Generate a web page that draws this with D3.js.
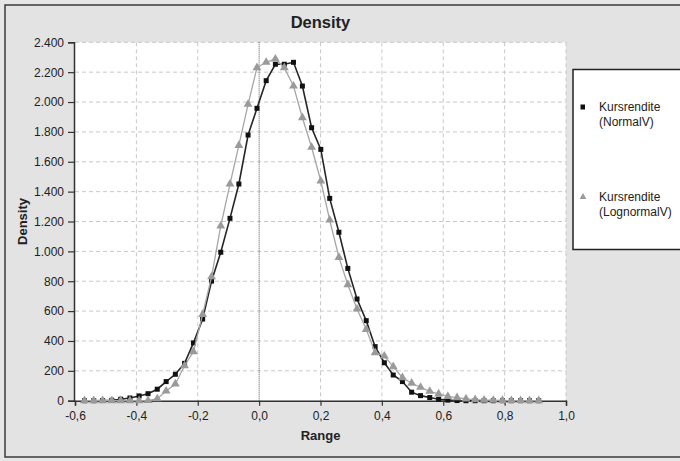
<!DOCTYPE html>
<html>
<head>
<meta charset="utf-8">
<script src="https://cdn.jsdelivr.net/npm/d3@7"></script>
<style>
  html, body { margin: 0; padding: 0; background: #e4e4e4; }
  svg { display: block; font-family: "Liberation Sans", Arial, sans-serif; }
</style>
</head>
<body>
<svg id="chart" width="680" height="461"></svg>
<script>
// ---- Data ----
const rangeValues = [
  -0.569, -0.539, -0.510, -0.480, -0.451, -0.421, -0.391, -0.362, -0.332, -0.303,
  -0.273, -0.243, -0.214, -0.184, -0.155, -0.125, -0.095, -0.066, -0.036, -0.007,
   0.023,  0.053,  0.082,  0.112,  0.141,  0.171,  0.201,  0.230,  0.260,  0.289,
   0.319,  0.349,  0.378,  0.408,  0.437,  0.467,  0.497,  0.526,  0.556,  0.585,
   0.615,  0.645,  0.674,  0.704,  0.733,  0.763,  0.793,  0.822,  0.852,  0.881,
   0.911
];
const normalDensity = [
     0,    0,    1,    3,   10,   18,   32,   47,   77,  128,
   177,  250,  387,  547,  801,  994, 1221, 1451, 1779, 1958,
  2143, 2253, 2253, 2266, 2107, 1828, 1683, 1355, 1128,  886,
   681,  536,  362,  254,  172,  128,   57,   34,   21,   10,
     4,    1,    0,    0,    0,    0,    0,    0,    0,    0,
     0
];
const lognormalDensity = [
     0,    0,    0,    0,    0,    0,    0,    1,   13,   65,
   112,  234,  328,  578,  830, 1170, 1451, 1710, 1985, 2230,
  2266, 2288, 2230, 2107, 1895, 1697, 1471, 1210,  960,  777,
   614,  478,  322,  299,  228,  154,  117,   90,   63,   46,
    29,   20,   12,    7,    4,    3,    2,    1,    1,    0,
     0
];
const seriesNames = ["Kursrendite (NormalV)", "Kursrendite (LognormalV)"];
const xTicks = [-0.6, -0.4, -0.2, 0.0, 0.2, 0.4, 0.6, 0.8, 1.0];
const yTicks = [0, 200, 400, 600, 800, 1000, 1200, 1400, 1600, 1800, 2000, 2200, 2400];
const chartTitle = "Density";
const xTitle = "Range";
const yTitle = "Density";

// ---- Layout ----
const svg = d3.select("#chart");
const plot = { left: 75, right: 566, top: 42.3, bottom: 400.7 };
const de = d3.formatLocale({ decimal: ",", thousands: ".", grouping: [3], currency: ["", " €"], minus: "-" });
const fmtY = de.format(",d");
const fmtX = de.format(".1f");

const x = d3.scaleLinear().domain([-0.6, 1.0]).range([plot.left, plot.right]);
const y = d3.scaleLinear().domain([0, 2400]).range([plot.bottom, plot.top]);

// background and outer frame
svg.append("rect").attr("x", 0).attr("y", 0).attr("width", 680).attr("height", 461).attr("fill", "#e6e6e6");
svg.append("rect").attr("x", 5).attr("y", 5).attr("width", 700).attr("height", 452)
  .attr("fill", "#e3e3e3").attr("stroke", "#3a3a3a").attr("stroke-width", 1.5);

// plot area
svg.append("rect").attr("x", plot.left).attr("y", plot.top)
  .attr("width", plot.right - plot.left).attr("height", plot.bottom - plot.top)
  .attr("fill", "#ffffff");

// grid lines
const grid = svg.append("g");
grid.selectAll("line.h").data(yTicks.filter(d => d > 0)).join("line")
  .attr("x1", plot.left).attr("x2", plot.right)
  .attr("y1", d => y(d)).attr("y2", d => y(d))
  .attr("stroke", "#c8c8c8").attr("stroke-width", 1).attr("stroke-dasharray", "4,3");
grid.selectAll("line.v").data(xTicks.filter(d => d !== 0 && d !== -0.6)).join("line")
  .attr("x1", d => x(d)).attr("x2", d => x(d))
  .attr("y1", plot.top).attr("y2", plot.bottom)
  .attr("stroke", "#c8c8c8").attr("stroke-width", 1).attr("stroke-dasharray", "4,3");
// zero line (dotted, darker)
svg.append("line").attr("x1", x(0)).attr("x2", x(0)).attr("y1", plot.top).attr("y2", plot.bottom)
  .attr("stroke", "#555").attr("stroke-width", 1).attr("stroke-dasharray", "1,1");

// axes
const xAxis = svg.append("g").attr("transform", `translate(0,${plot.bottom})`)
  .call(d3.axisBottom(x).tickValues(xTicks).tickFormat(fmtX).tickSize(5).tickPadding(6));
const yAxis = svg.append("g").attr("transform", `translate(${plot.left - 1},0)`)
  .call(d3.axisLeft(y).tickValues(yTicks).tickFormat(fmtY).tickSize(6).tickPadding(4));
[xAxis, yAxis].forEach(a => {
  a.select(".domain").attr("stroke", "#333").attr("stroke-width", 1.5);
  a.selectAll(".tick line").attr("stroke", "#333").attr("stroke-width", 1.2);
  a.selectAll(".tick text").attr("fill", "#222").style("font-size", "12px")
    .style("font-family", "'Liberation Sans', Arial, sans-serif");
});

// series
const pts = (vals) => rangeValues.map((r, i) => [r, vals[i]]);
const line = d3.line().x(d => x(d[0])).y(d => y(d[1]));

svg.append("path").datum(pts(normalDensity)).attr("d", line)
  .attr("fill", "none").attr("stroke", "#262626").attr("stroke-width", 1.6);
svg.append("g").selectAll("rect").data(pts(normalDensity)).join("rect")
  .attr("x", d => x(d[0]) - 2.5).attr("y", d => y(d[1]) - 2.5)
  .attr("width", 5).attr("height", 5).attr("fill", "#111");

svg.append("path").datum(pts(lognormalDensity)).attr("d", line)
  .attr("fill", "none").attr("stroke", "#a6a6a6").attr("stroke-width", 1.3);
const tri = d3.symbol().type(d3.symbolTriangle).size(34);
svg.append("g").selectAll("path").data(pts(lognormalDensity)).join("path")
  .attr("d", tri).attr("transform", d => `translate(${x(d[0])},${y(d[1])})`)
  .attr("fill", "#9a9a9a");

// titles
svg.append("text").attr("x", (plot.left + plot.right) / 2).attr("y", 28)
  .attr("text-anchor", "middle").style("font-size", "16.5px").style("font-weight", "bold")
  .attr("fill", "#222").text(chartTitle);
svg.append("text").attr("x", (plot.left + plot.right) / 2).attr("y", 440)
  .attr("text-anchor", "middle").style("font-size", "13px").style("font-weight", "bold")
  .attr("fill", "#222").text(xTitle);
svg.append("text").attr("transform", `translate(27,${(plot.top + plot.bottom) / 2}) rotate(-90)`)
  .attr("text-anchor", "middle").style("font-size", "13px").style("font-weight", "bold")
  .attr("fill", "#222").text(yTitle);

// legend
const lg = svg.append("g");
lg.append("rect").attr("x", 573).attr("y", 69.5).attr("width", 130).attr("height", 180)
  .attr("fill", "#ffffff").attr("stroke", "#222").attr("stroke-width", 1.5);
const legendRows = [
  { lines: ["Kursrendite", "(NormalV)"], y: 107, kind: "square" },
  { lines: ["Kursrendite", "(LognormalV)"], y: 197, kind: "triangle" }
];
legendRows.forEach((row, i) => {
  if (row.kind === "square") {
    lg.append("rect").attr("x", 580.5).attr("y", row.y - 2.5).attr("width", 4.5).attr("height", 5).attr("fill", "#111");
  } else {
    lg.append("path").attr("d", d3.symbol().type(d3.symbolTriangle).size(20))
      .attr("transform", `translate(583,${row.y})`).attr("fill", "#9a9a9a");
  }
  row.lines.forEach((t, j) => {
    lg.append("text").attr("x", 599).attr("y", row.y + 4 + j * 15)
      .style("font-size", "12px").attr("fill", "#222").text(t);
  });
});
</script>
</body>
</html>
